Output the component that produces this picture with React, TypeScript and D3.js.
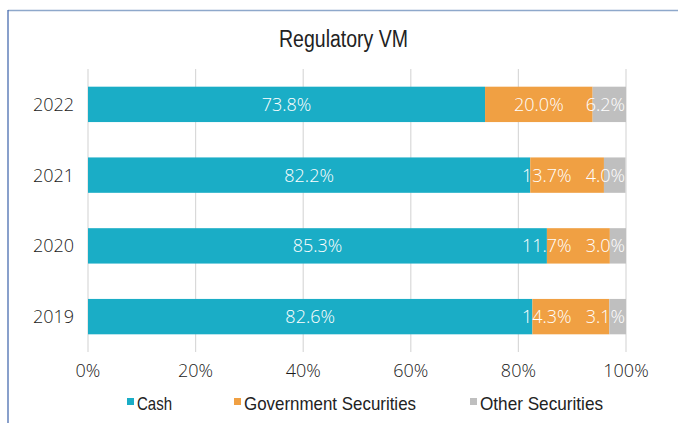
import { useEffect, useRef } from 'react';
import * as d3 from 'd3';

const years = ['2022', '2021', '2020', '2019'];
const cash = [73.8, 82.2, 85.3, 82.6];
const govt = [20.0, 13.7, 11.7, 14.3];
const other = [6.2, 4.0, 3.0, 3.1];
const seriesNames = ['Cash', 'Government Securities', 'Other Securities'];
const ticks = [0, 20, 40, 60, 80, 100];

const colors = ['#1AADC6', '#F0A043', '#BFBFBF'];
const sans = '"Open Sans", "DejaVu Sans", sans-serif';
const narrow = '"Liberation Sans", Arial, sans-serif';

const App = () => {
  const ref = useRef<SVGSVGElement>(null);

  useEffect(() => {
    const svg = d3.select(ref.current);
    svg.selectAll('*').remove();

    // frame (top and left only)
    svg.append('line')
      .attr('x1', 8).attr('x2', 678).attr('y1', 10.5).attr('y2', 10.5)
      .attr('stroke', '#8EA8CB').attr('stroke-width', 1.5);
    svg.append('line')
      .attr('x1', 8).attr('x2', 8).attr('y1', 10).attr('y2', 423)
      .attr('stroke', '#4A6DB0').attr('stroke-width', 1.3);

    // title, squeezed to a narrow face
    svg.append('text')
      .attr('x', 279)
      .attr('y', 47)
      .attr('textLength', 129)
      .attr('lengthAdjust', 'spacingAndGlyphs')
      .style('font-family', narrow)
      .style('font-size', '23px')
      .attr('fill', '#222')
      .text('Regulatory VM');

    const x = d3.scaleLinear().domain([0, 100]).range([88, 626]);
    const y = d3.scaleBand().domain(years).range([69, 352]).paddingInner(0.5).paddingOuter(0.25);

    // gridlines
    svg.append('g')
      .selectAll('line')
      .data(ticks)
      .join('line')
      .attr('x1', d => x(d))
      .attr('x2', d => x(d))
      .attr('y1', 69)
      .attr('y2', 352)
      .attr('stroke', '#D9D9D9')
      .attr('stroke-width', 1.2);

    const rows = years.map((yr, i) => ({ yr, vals: [cash[i], govt[i], other[i]] }));

    rows.forEach(row => {
      let acc = 0;
      row.vals.forEach((v, j) => {
        const x0 = x(acc);
        const x1 = x(Math.min(100, acc + v));
        acc += v;
        svg.append('rect')
          .attr('x', x0)
          .attr('y', y(row.yr)!)
          .attr('width', Math.max(0, x1 - x0))
          .attr('height', y.bandwidth())
          .attr('fill', colors[j]);
      });
    });

    // value labels: centred, last one kept inside the plot, earlier ones pushed left
    rows.forEach(row => {
      let acc = 0;
      const labels = row.vals.map(v => {
        const cx = x(acc + v / 2);
        acc += v;
        const t = svg.append('text')
          .attr('y', y(row.yr)! + y.bandwidth() / 2 + 6.5)
          .attr('text-anchor', 'middle')
          .style('font-family', sans)
          .style('font-size', '18px')
          .style('font-weight', 300)
          .attr('fill', '#fff')
          .text(v.toFixed(1) + '%');
        const w = (t.node() as SVGTextElement).getComputedTextLength();
        return { t, cx, w };
      });
      let limit = x(100) - 1;
      for (let k = labels.length - 1; k >= 0; k--) {
        const l = labels[k];
        if (l.cx + l.w / 2 > limit) l.cx = limit - l.w / 2;
        l.t.attr('x', l.cx);
        limit = l.cx - l.w / 2 - 14;
      }
    });

    // year labels
    svg.append('g')
      .selectAll('text')
      .data(years)
      .join('text')
      .attr('x', 74)
      .attr('y', d => y(d)! + y.bandwidth() / 2 + 6.5)
      .attr('text-anchor', 'end')
      .style('font-family', sans)
      .style('font-size', '18px')
      .style('font-weight', 300)
      .attr('fill', '#1a1a1a')
      .text(d => d);

    // x tick labels
    svg.append('g')
      .selectAll('text')
      .data(ticks)
      .join('text')
      .attr('x', d => x(d))
      .attr('y', 377)
      .attr('text-anchor', 'middle')
      .style('font-family', sans)
      .style('font-size', '18px')
      .style('font-weight', 300)
      .attr('fill', '#1a1a1a')
      .text(d => d + '%');

    // legend
    const legendX = [127, 234, 470];
    const legendW = [35, 172, 123];
    seriesNames.forEach((name, i) => {
      svg.append('rect')
        .attr('x', legendX[i])
        .attr('y', 398)
        .attr('width', 7)
        .attr('height', 7)
        .attr('fill', colors[i]);
      svg.append('text')
        .attr('x', legendX[i] + 10)
        .attr('y', 410)
        .attr('textLength', legendW[i])
        .attr('lengthAdjust', 'spacingAndGlyphs')
        .style('font-family', narrow)
        .style('font-size', '18.5px')
        .attr('fill', '#222')
        .text(name);
    });
  }, []);

  return (
    <svg
      ref={ref}
      width={678}
      height={423}
      style={{ position: 'absolute', left: 0, top: 0, background: '#fff' }}
    />
  );
};

export default App;
